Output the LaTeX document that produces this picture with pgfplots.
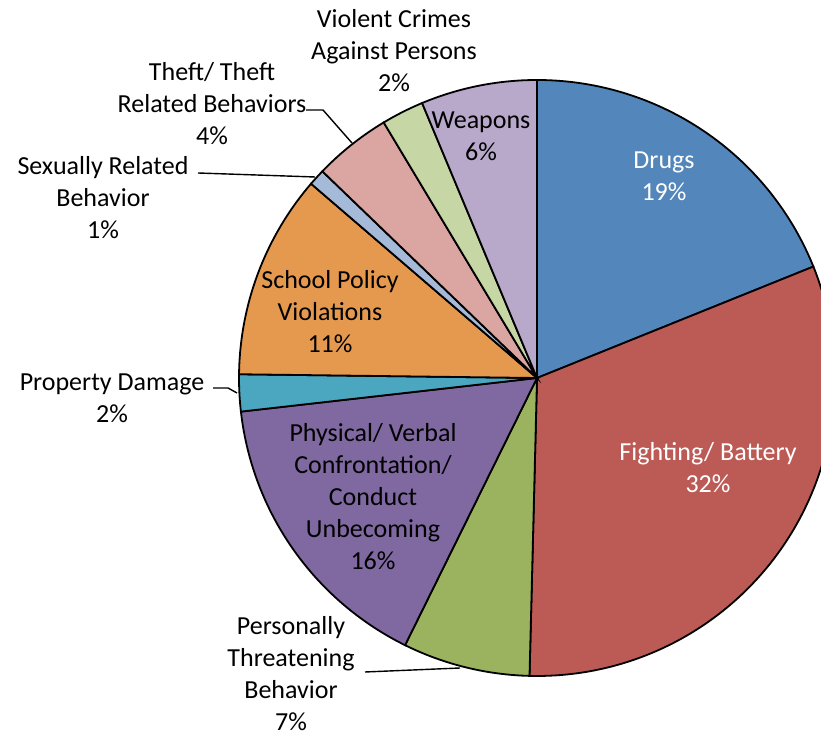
\documentclass[border=0pt]{standalone}
\usepackage{fontspec}
\setmainfont{Carlito}
\usepackage{pgfplots}
\pgfplotsset{compat=1.18}
\definecolor{cDrugs}{HTML}{5386BA}
\definecolor{cFight}{HTML}{BC5B55}
\definecolor{cPers}{HTML}{9BB35F}
\definecolor{cPhys}{HTML}{8068A0}
\definecolor{cProp}{HTML}{4BA7C0}
\definecolor{cSchool}{HTML}{E5994F}
\definecolor{cSex}{HTML}{A5B9D9}
\definecolor{cTheft}{HTML}{DBA5A2}
\definecolor{cViol}{HTML}{C6D6A4}
\definecolor{cWeap}{HTML}{B8A8CA}
\tikzset{lbl/.style={font=\fontsize{26bp}{32bp}\selectfont, align=center, inner sep=0pt}}
% #1 = cumulative start (percent), #2 = value (percent), #3 = colour
\newcommand{\slice}[3]{%
  \addplot[draw=black, line width=1.8bp, fill=#3, samples=120, variable=\t,
    domain={90-3.6*(#1+#2)}:{90-3.6*(#1)}]
    ({537+298*cos(\t)},{360+298*sin(\t)}) -- (axis cs:537,360) -- cycle;}
\begin{document}
\begin{tikzpicture}
\begin{axis}[x=1bp, y=1bp, xmin=0, xmax=821, ymin=0, ymax=738,
  hide axis, clip=true]
\slice{0}{18.9}{cDrugs}
\slice{18.9}{31.5}{cFight}
\slice{50.4}{6.9}{cPers}
\slice{57.3}{15.9}{cPhys}
\slice{73.2}{2.0}{cProp}
\slice{75.2}{11.1}{cSchool}
\slice{86.3}{0.9}{cSex}
\slice{87.2}{4.2}{cTheft}
\slice{91.4}{2.3}{cViol}
\slice{93.7}{6.3}{cWeap}
% leader lines
\addplot[black, line width=1.4bp] coordinates {(306,628) (323,628) (352,595)};
\addplot[black, line width=1.4bp] coordinates {(198,565) (315,561)};
\addplot[black, line width=1.4bp] coordinates {(213,350) (228,350) (237,345)};
\addplot[black, line width=1.4bp] coordinates {(365,66) (460,70)};
% labels
\node[lbl, text=white] at (axis cs:664,562) {Drugs\\19\%};
\node[lbl, text=white] at (axis cs:708,270) {Fighting/ Battery\\32\%};
\node[lbl] at (axis cs:291,64) {Personally\\Threatening\\Behavior\\7\%};
\node[lbl] at (axis cs:373,241) {Physical/ Verbal\\Confrontation/\\Conduct\\Unbecoming\\16\%};
\node[lbl] at (axis cs:112,340) {Property Damage\\2\%};
\node[lbl] at (axis cs:330,426) {School Policy\\Violations\\11\%};
\node[lbl] at (axis cs:103,540) {Sexually Related\\Behavior\\1\%};
\node[lbl] at (axis cs:212,634) {Theft/ Theft\\Related Behaviors\\4\%};
\node[lbl] at (axis cs:394,687) {Violent Crimes\\Against Persons\\2\%};
\node[lbl] at (axis cs:481,602) {Weapons\\6\%};
\end{axis}
\pgfresetboundingbox
\path[use as bounding box] (current axis.south west) rectangle (current axis.north east);
\end{tikzpicture}
\end{document}
